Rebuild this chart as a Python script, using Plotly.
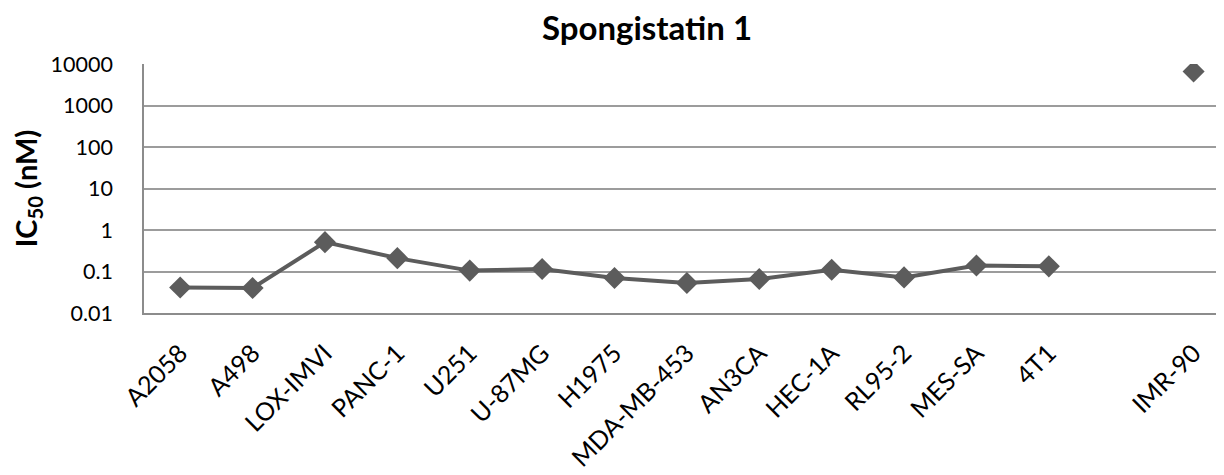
import plotly.graph_objects as go

categories = ["A2058", "A498", "LOX-IMVI", "PANC-1", "U251", "U-87MG", "H1975",
              "MDA-MB-453", "AN3CA", "HEC-1A", "RL95-2", "MES-SA", "4T1", "", "IMR-90"]
ic50_nM = [0.041, 0.040, 0.51, 0.21, 0.105, 0.115, 0.07, 0.053, 0.066, 0.11,
           0.072, 0.14, 0.133, None, 6600]
ytick_vals = [0.01, 0.1, 1, 10, 100, 1000, 10000]
ytick_text = ["0.01", "0.1", "1", "10", "100", "1000", "10000"]

FONT = "Lato"
grey = "#5c5c5c"
xpos = list(range(len(categories)))

W, H, OFF = 1216, 467, 8  # page body margin offsets the figure by 8px

fig = go.Figure()
fig.add_trace(go.Scatter(
    x=xpos, y=ic50_nM, mode="lines+markers",
    line=dict(color=grey, width=4),
    marker=dict(symbol="diamond", size=17, color=grey),
    connectgaps=False, showlegend=False,
))

fig.update_layout(
    width=W, height=H,
    margin=dict(l=144 - OFF, r=0, t=64 - OFF, b=162, autoexpand=False),
    paper_bgcolor="white", plot_bgcolor="white",
    font=dict(family=FONT, color="black"),
    title=dict(text="<b>Spongistatin 1</b>", x=(647 - OFF) / W, xanchor="center",
               y=1 - (28 - OFF) / H, yanchor="middle",
               font=dict(family=FONT, size=33, color="black")),
    xaxis=dict(
        range=[-0.5, 14.42], tickmode="array", tickvals=xpos, ticktext=categories,
        tickangle=-45, tickfont=dict(family=FONT, size=25, color="black"),
        showgrid=False, zeroline=False, showline=True, linecolor="#8c8c8c",
        linewidth=1.5, ticks="", ticklabelstandoff=14, automargin=False,
    ),
    yaxis=dict(
        type="log", range=[-2, 4], tickmode="array", tickvals=ytick_vals,
        ticktext=ytick_text, tickfont=dict(family=FONT, size=21.5, color="black"),
        showgrid=True, gridcolor="#9c9c9c", gridwidth=1.5,
        showline=True, linecolor="#8c8c8c", linewidth=1.5, ticks="",
        zeroline=False, ticklabelstandoff=25, automargin=False,
        title=dict(text="<b>IC<sub>50</sub> (nM)</b>", standoff=13,
                   font=dict(family=FONT, size=29, color="black")),
    ),
)

fig.write_html("out.html")
